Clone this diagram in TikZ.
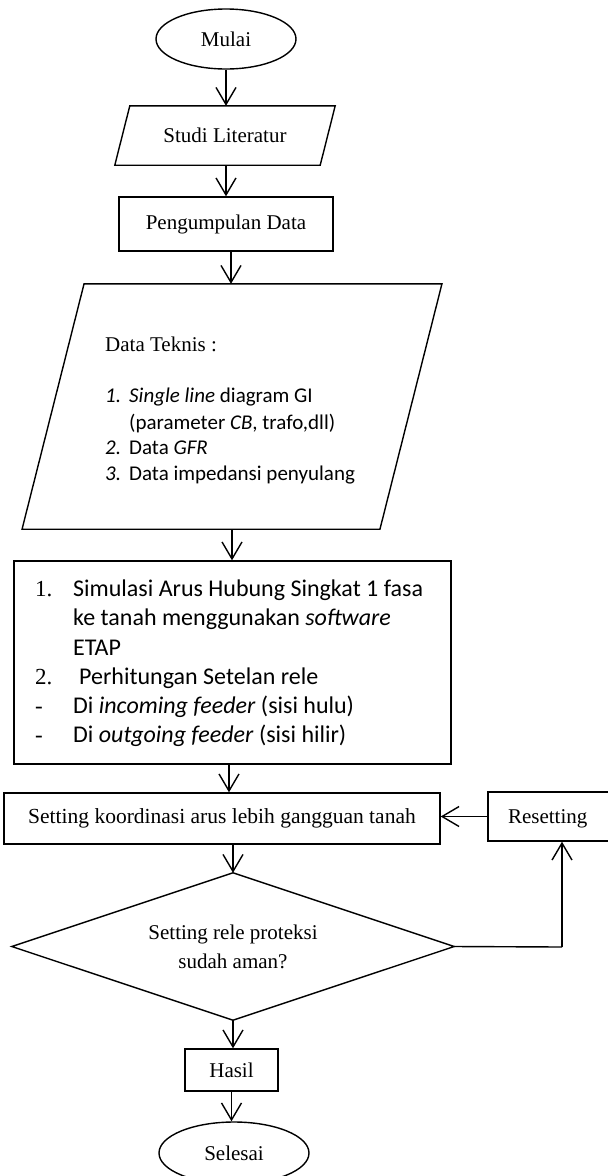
\documentclass[tikz,border=0pt]{standalone}
\usepackage{fontspec}
\setmainfont{Liberation Serif}
\newfontfamily\calibri{Carlito}
\usetikzlibrary{shapes.geometric,arrows.meta}
\begin{document}
\begin{tikzpicture}[x=1pt,y=-1pt,
  every node/.style={font=\fontsize{21}{25}\selectfont},
  ln/.style={line width=1.4pt},
  arr/.style={line width=1.4pt,-{Straight Barb[length=17pt,width=20pt,line width=1.4pt]}},
  box/.style={draw,rectangle,line width=1.4pt,inner sep=0pt},
  term/.style={draw,ellipse,line width=1.4pt,inner sep=0pt},
  ghost/.style={rectangle,inner sep=0pt},
  lstA/.style={anchor=base west,inner sep=0pt,font=\calibri\fontsize{21}{25}\selectfont},
  lstB/.style={anchor=base west,inner sep=0pt,font=\calibri\fontsize{24}{29}\selectfont},
  numB/.style={anchor=base west,inner sep=0pt,font=\fontsize{23}{29}\selectfont},
  txt/.style={anchor=base west,inner sep=0pt}
]
\useasboundingbox (0,0) rectangle (608,1176);

% nodes
\node[term,minimum width=140pt,minimum height=60pt] (mulai) at (226,39) {Mulai};
\node[ghost,minimum width=205pt,minimum height=59pt] (studi) at (225,135.5) {Studi Literatur};
\draw[ln] ([xshift=7.5pt]studi.north west) -- ([xshift=7.5pt]studi.north east)
  -- ([xshift=-7.5pt]studi.south east) -- ([xshift=-7.5pt]studi.south west) -- cycle;
\node[box,minimum width=214pt,minimum height=54pt] (peng) at (226,224) {Pengumpulan Data};

\node[ghost,minimum width=357.5pt,minimum height=245pt] (data) at (232,406.5) {};
\draw[ln] ([xshift=31pt]data.north west) -- ([xshift=31pt]data.north east)
  -- ([xshift=-31pt]data.south east) -- ([xshift=-31pt]data.south west) -- cycle;
\node[txt] (dt) at (105,351) {Data Teknis :};
\node[lstA] (dn1) at (105,402) {\textit{1.}};
\node[lstA] (dl1) at (129,402) {\textit{Single line} diagram GI};
\node[lstA] (dl2) at (129,429) {(parameter \textit{CB}, trafo,dll)};
\node[lstA] (dn2) at (105,454) {\textit{2.}};
\node[lstA] (dl3) at (129,454) {Data \textit{GFR}};
\node[lstA] (dn3) at (105,480) {\textit{3.}};
\node[lstA] (dl4) at (129,480) {Data impedansi penyulang};

\node[box,minimum width=437pt,minimum height=203pt] (sim) at (232.5,662.5) {};
\node[numB] (sn1) at (35,596) {1.};
\node[lstB] (sl1) at (73,596) {Simulasi Arus Hubung Singkat 1 fasa};
\node[lstB] (sl2) at (73,625) {ke tanah menggunakan \textit{software}};
\node[lstB] (sl3) at (73,655) {ETAP};
\node[numB] (sn2) at (35,684) {2.};
\node[lstB] (sl4) at (79,684) {Perhitungan Setelan rele};
\node[numB] (sd1) at (35,713) {-};
\node[lstB] (sl5) at (73,713) {Di \textit{incoming feeder} (sisi hulu)};
\node[numB] (sd2) at (35,742) {-};
\node[lstB] (sl6) at (73,742) {Di \textit{outgoing feeder} (sisi hilir)};

\node[box,minimum width=436pt,minimum height=51pt,font=\fontsize{21.5}{25}\selectfont] (set) at (222,818.5) {Setting koordinasi arus lebih gangguan tanah};
\node[box,minimum width=126pt,minimum height=49pt,text width=122pt,align=left,
  text height=17pt,text depth=3pt] (reset) at (551,816.5) {\hspace*{18pt}Resetting};

\node[ghost,minimum width=442pt,minimum height=147pt,
  align=center,font=\fontsize{21}{29}\selectfont] (dec) at (233,946.5) {Setting rele proteksi\\sudah aman?};
\draw[ln] (dec.north) -- (dec.east) -- (dec.south) -- (dec.west) -- cycle;

\node[box,minimum width=93pt,minimum height=42pt] (hasil) at (231.5,1070) {Hasil};
\node[term,minimum width=150pt,minimum height=62pt] (sel) at (234,1153) {Selesai};

\coordinate (loop) at (562,947);

% connectors
\draw[arr] (mulai.south) -- (mulai.south |- studi.north);
\draw[arr] (studi.south -| peng.north) -- (peng.north);
\draw[arr] ([xshift=5pt]peng.south) -- ([xshift=5pt]peng.south |- data.north);
\draw[arr] (data.south) -- (data.south |- sim.north);
\draw[arr] ([xshift=7pt]sim.south -| set.north) -- ([xshift=7pt]set.north);
\draw[arr] (dec.north |- set.south) -- (dec.north);
\draw[arr] (dec.south) -- (dec.south |- hasil.north);
\draw[arr] (hasil.south) -- (hasil.south |- sel.north);
\draw[arr] (reset.west) -- (reset.west -| set.east);
\draw[ln] (dec.east) -- (loop);
\draw[arr] (loop) -- (loop |- reset.south);
\end{tikzpicture}
\end{document}
